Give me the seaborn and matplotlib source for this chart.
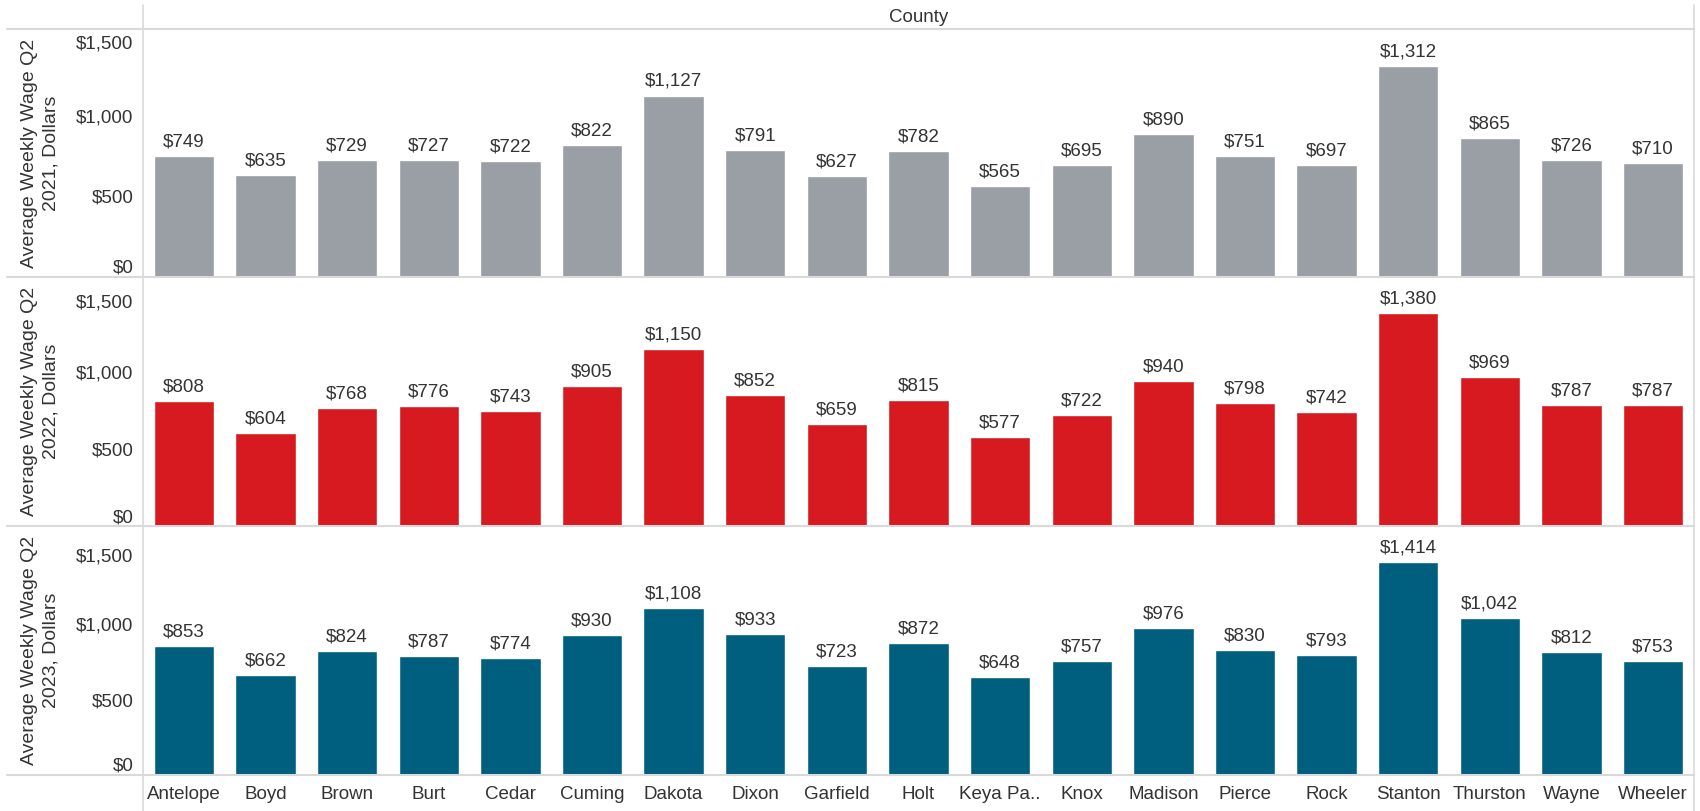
import pandas as pd
import matplotlib.pyplot as plt
import matplotlib.lines as mlines
import seaborn as sns

counties = ['Antelope', 'Boyd', 'Brown', 'Burt', 'Cedar', 'Cuming', 'Dakota', 'Dixon',
            'Garfield', 'Holt', 'Keya Pa..', 'Knox', 'Madison', 'Pierce', 'Rock',
            'Stanton', 'Thurston', 'Wayne', 'Wheeler']
wage_2021 = [749, 635, 729, 727, 722, 822, 1127, 791, 627, 782, 565, 695, 890, 751, 697, 1312, 865, 726, 710]
wage_2022 = [808, 604, 768, 776, 743, 905, 1150, 852, 659, 815, 577, 722, 940, 798, 742, 1380, 969, 787, 787]
wage_2023 = [853, 662, 824, 787, 774, 930, 1108, 933, 723, 872, 648, 757, 976, 830, 793, 1414, 1042, 812, 753]
years = ['2021', '2022', '2023']
y_ticks = [0, 500, 1000, 1500]

colors = {'2021': '#9A9EA5', '2022': '#D71920', '2023': '#005F7E'}
y_max = {'2021': 1540, '2022': 1615, '2023': 1650}

df = pd.DataFrame({
    'County': counties * 3,
    'Year': [y for y in years for _ in counties],
    'Wage': wage_2021 + wage_2022 + wage_2023,
})

sns.set_style('white')
plt.rcParams['font.family'] = ['Liberation Sans', 'DejaVu Sans']
txt = '#333333'
grid = '#D9D9D9'
fs = 13.5

W, H = 1700, 811
fig = plt.figure(figsize=(17, 8.11), dpi=100)

left, right = 143 / W, 1694 / W
tops = [29, 277, 526]
bottoms = [277, 526, 775]

for i, yr in enumerate(years):
    ax = fig.add_axes([left, 1 - bottoms[i] / H, right - left, (bottoms[i] - tops[i]) / H])
    sub = df[df['Year'] == yr]
    sns.barplot(data=sub, x='County', y='Wage', color=colors[yr], width=0.74,
                saturation=1, ax=ax, errorbar=None)
    ax.set_ylim(0, y_max[yr])
    ax.set_xlim(-0.5, len(counties) - 0.5)
    ax.set_yticks(y_ticks)
    ax.set_yticklabels(['${:,}'.format(v) for v in y_ticks], fontsize=fs, color=txt)
    ax.tick_params(axis='y', length=0, pad=7)
    # Tableau style nudges edge labels inward
    ylabs = ax.get_yticklabels()
    ylabs[0].set_va('bottom')
    ylabs[-1].set_va('top')
    ax.set_ylabel('Average Weekly Wage Q2\n{}, Dollars'.format(yr), fontsize=fs + 0.5,
                  color=txt, linespacing=1.35)
    ax.yaxis.label.set_va('center')
    ax.yaxis.set_label_coords(-0.066, 0.5)
    ax.set_xlabel('')
    for s in ax.spines.values():
        s.set_visible(False)
    ax.bar_label(ax.containers[0], labels=['${:,}'.format(v) for v in sub['Wage']],
                 padding=4, fontsize=fs, color=txt)
    if i < 2:
        ax.set_xticks([])
    else:
        ax.set_xticks(range(len(counties)))
        ax.set_xticklabels(counties, fontsize=fs, color=txt)
        ax.tick_params(axis='x', length=0, pad=8)
        ax.set_xticks([k + 0.5 for k in range(len(counties) - 1)], minor=True)
        ax.tick_params(axis='x', which='minor', length=5, color='#EBEBEB', width=1)

# frame lines
for yy in [29, 277, 526, 775]:
    fig.add_artist(mlines.Line2D([7 / W, right], [1 - yy / H, 1 - yy / H],
                                 color=grid, lw=1.5, transform=fig.transFigure))
fig.add_artist(mlines.Line2D([left, left], [0, 1 - 5 / H], color=grid, lw=1.2,
                             transform=fig.transFigure))
fig.add_artist(mlines.Line2D([right, right], [0, 1 - 5 / H], color=grid, lw=1.2,
                             transform=fig.transFigure))

fig.text((left + right) / 2, 1 - 17 / H, 'County', ha='center', va='center',
         fontsize=fs, color=txt)

fig.savefig('out.png', dpi=100)
